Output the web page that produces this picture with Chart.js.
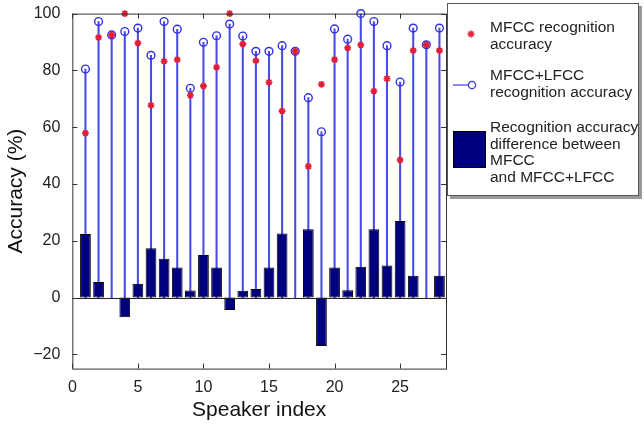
<!DOCTYPE html>
<html>
<head>
<meta charset="utf-8">
<script src="https://cdn.jsdelivr.net/npm/chart.js@4.4.1/dist/chart.umd.min.js"></script>
<style>
  html, body { margin: 0; padding: 0; background: #fff; }
  #wrap { position: relative; width: 644px; height: 424px; }
  #chart { position: absolute; left: 0; top: 0; }
  #legend {
    position: absolute; left: 447px; top: 3px; width: 190px; height: 191px;
    border: 1px solid #555; box-shadow: 3px 3px 0 #9a9a9a;
    background: #fff; font-family: "Liberation Sans", Arial, sans-serif;
    font-size: 15.5px; line-height: 16.5px; color: #222;
  }
  .item { position: absolute; left: 42px; white-space: nowrap; }
  .sym { position: absolute; }
</style>
</head>
<body>
<div id="wrap">
  <canvas id="chart" width="644" height="424"></canvas>
  <div id="legend">
    <svg class="sym" style="left:18px;top:25px" width="10" height="10" viewBox="-5 -5 10 10">
      <g stroke="#e0203a" stroke-width="1.6">
        <line x1="-3.5" y1="0" x2="3.5" y2="0"/><line x1="0" y1="-3.5" x2="0" y2="3.5"/>
        <line x1="-2.5" y1="-2.5" x2="2.5" y2="2.5"/><line x1="-2.5" y1="2.5" x2="2.5" y2="-2.5"/>
      </g>
    </svg>
    <div class="item" style="top:15px">MFCC recognition<br>accuracy</div>
    <svg class="sym" style="left:4px;top:75px" width="32" height="12">
      <line x1="1" y1="6" x2="17" y2="6" stroke="#3a3ae0" stroke-width="1.2"/>
      <circle cx="20" cy="6" r="3.6" fill="none" stroke="#3a3ae0" stroke-width="1.3"/>
    </svg>
    <div class="item" style="top:63px">MFCC+LFCC<br>recognition accuracy</div>
    <div class="sym" style="left:5px;top:127px;width:33px;height:37px;background:#00007e;border:1px solid #000;box-sizing:border-box"></div>
    <div class="item" style="top:115px">Recognition accuracy<br>difference between<br>MFCC<br>and MFCC+LFCC</div>
  </div>
</div>
<script>
// Speaker indices and per-speaker recognition accuracy (%)
const speakers = [1, 2, 3, 4, 5, 6, 7, 8, 9, 10, 11, 12, 13, 14, 15, 16, 17, 18, 19, 20, 21, 22, 23, 24, 25, 26, 27, 28];
const mfccAccuracy = [57.9, 91.6, 92.5, 100, 89.6, 67.7, 83.2, 83.8, 71.2, 74.5, 81.1, 100, 89.3, 83.4, 75.8, 65.7, 86.7, 46.2, 75.1, 83.8, 87.9, 89.0, 72.7, 77.1, 48.5, 87.0, 89.0, 87.0];
const fusedAccuracy = [80.5, 97.2, 92.5, 93.7, 94.9, 85.3, 97.2, 94.5, 73.7, 89.9, 92.2, 96.3, 92.1, 86.7, 86.7, 88.7, 86.7, 70.4, 58.4, 94.6, 91.0, 100, 97.2, 88.7, 75.9, 94.9, 89.0, 94.9];
const accuracyDiff = [22.4, 5.5, 0, -6.9, 4.9, 17.4, 13.7, 10.6, 2.5, 15.0, 10.6, -4.4, 2.4, 3.0, 10.6, 22.6, 0, 24.1, -17.0, 10.6, 2.6, 10.9, 24.1, 11.3, 27.0, 7.7, 0, 7.7];
const xTicks = [0, 5, 10, 15, 20, 25];
const yTicks = [-20, 0, 20, 40, 60, 80, 100];

const FONT = '"Liberation Sans", Arial, sans-serif';

// Zero baseline under the bars
const baseline = {
  id: 'baseline',
  afterDatasetsDraw(chart) {
    const { ctx, chartArea: a, scales } = chart;
    const py = Math.round(scales.y.getPixelForValue(0)) + 0.5;
    ctx.save();
    ctx.strokeStyle = '#222';
    ctx.lineWidth = 1;
    ctx.beginPath();
    ctx.moveTo(a.left, py); ctx.lineTo(a.right, py);
    ctx.stroke();
    ctx.restore();
  }
};

// Box around the plot area with inward tick marks on all four sides
const frame = {
  id: 'frame',
  afterDraw(chart) {
    const { ctx, chartArea: a, scales } = chart;
    ctx.save();
    ctx.strokeStyle = '#333';
    ctx.lineWidth = 1;
    ctx.strokeRect(a.left + 0.5, a.top + 0.5, a.right - a.left, a.bottom - a.top);
    ctx.beginPath();
    const L = 5;
    scales.x.ticks.forEach(t => {
      const px = Math.round(scales.x.getPixelForValue(t.value)) + 0.5;
      ctx.moveTo(px, a.bottom); ctx.lineTo(px, a.bottom - L);
      ctx.moveTo(px, a.top); ctx.lineTo(px, a.top + L);
    });
    scales.y.ticks.forEach(t => {
      const py = Math.round(scales.y.getPixelForValue(t.value)) + 0.5;
      ctx.moveTo(a.left, py); ctx.lineTo(a.left + L, py);
      ctx.moveTo(a.right, py); ctx.lineTo(a.right - L, py);
    });
    ctx.stroke();
    ctx.restore();
  }
};

new Chart(document.getElementById('chart'), {
  type: 'bar',
  data: {
    datasets: [
      {
        type: 'scatter',
        data: speakers.map((s, i) => ({ x: s, y: mfccAccuracy[i] })),
        pointStyle: 'star', pointRadius: 3.4, borderWidth: 1.8,
        borderColor: '#e0203a', backgroundColor: '#e0203a',
        clip: false, order: 0
      },
      {
        type: 'scatter',
        data: speakers.map((s, i) => ({ x: s, y: fusedAccuracy[i] })),
        pointStyle: 'circle', pointRadius: 3.9, borderWidth: 1.4,
        borderColor: '#3030e0', backgroundColor: 'rgba(255,255,255,0)',
        clip: false, order: 1
      },
      {
        // difference bars
        data: speakers.map((s, i) => ({ x: s, y: accuracyDiff[i] })),
        backgroundColor: '#00007e', borderColor: '#000', borderWidth: 1,
        borderSkipped: false, grouped: false,
        barPercentage: 1, categoryPercentage: 0.82, order: 2
      },
      {
        // stems from zero up to the MFCC+LFCC accuracy
        data: speakers.map((s, i) => ({ x: s, y: [0, fusedAccuracy[i]] })),
        backgroundColor: '#4a4ae6', borderWidth: 0,
        barThickness: 1.4, grouped: false, order: 3
      }
    ]
  },
  options: {
    responsive: false,
    animation: false,
    events: [],
    layout: { padding: { left: 4, right: 198, top: -5, bottom: 1 } },
    plugins: { legend: { display: false }, tooltip: { enabled: false } },
    scales: {
      x: {
        type: 'linear', min: 0, max: 28.5, offset: false,
        afterBuildTicks: s => { s.ticks = xTicks.map(v => ({ value: v })); },
        grid: { display: false }, border: { display: false },
        ticks: { color: '#222', font: { family: FONT, size: 16 }, padding: 1, maxRotation: 0 },
        title: { display: true, text: 'Speaker index', color: '#111', font: { family: FONT, size: 21 }, padding: { top: 0, bottom: 0 } }
      },
      y: {
        min: -25, max: 100,
        afterBuildTicks: s => { s.ticks = yTicks.map(v => ({ value: v })); },
        grid: { display: false }, border: { display: false },
        ticks: {
          color: '#222', font: { family: FONT, size: 16 }, padding: 4,
          callback: v => String(v).replace('-', '\u2212')
        },
        title: { display: true, text: 'Accuracy (%)', color: '#111', font: { family: FONT, size: 21 }, padding: { top: 0, bottom: 0 } }
      }
    }
  },
  plugins: [baseline, frame]
});
</script>
</body>
</html>
